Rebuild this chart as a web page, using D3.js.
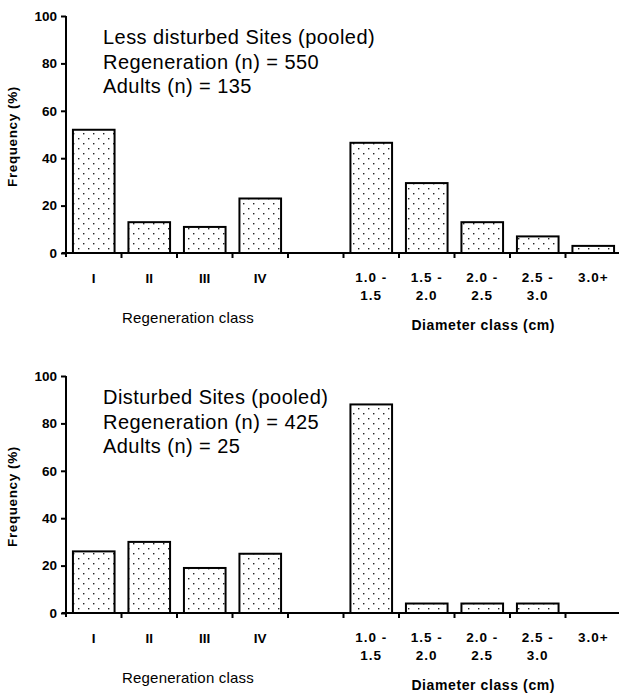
<!DOCTYPE html>
<html>
<head>
<meta charset="utf-8">
<script src="https://cdn.jsdelivr.net/npm/d3@7"></script>
<style>
  body { margin: 0; background: #fff; }
  svg { display: block; font-family: "Liberation Sans", Arial, sans-serif; }
</style>
</head>
<body>
<svg width="619" height="693"></svg>
<script>
const regenClasses = ["I", "II", "III", "IV"];
const diamClasses = ["1.0 -|1.5", "1.5 -|2.0", "2.0 -|2.5", "2.5 -|3.0", "3.0+"];
const yTicks = [0, 20, 40, 60, 80, 100];

const lessRegen = [52, 13, 11, 23];
const lessDiam = [46.5, 29.5, 13, 7, 3];
const disturbedRegen = [26, 30, 19, 25];
const disturbedDiam = [88, 4, 4, 4, 0];

const lessNotes = ["Less disturbed Sites (pooled)", "Regeneration (n) = 550", "Adults (n) = 135"];
const disturbedNotes = ["Disturbed Sites (pooled)", "Regeneration (n) = 425", "Adults (n) = 25"];

const svg = d3.select("svg");
const margin = { left: 66, top: 16 };
const innerH = 237;
const bandW = 55.5;

const defs = svg.append("defs");
const pat = defs.append("pattern")
    .attr("id", "dots")
    .attr("patternUnits", "userSpaceOnUse")
    .attr("width", 10)
    .attr("height", 10);
pat.append("rect").attr("width", 10).attr("height", 10).attr("fill", "#fff");
pat.append("rect").attr("x", 2).attr("y", 2).attr("width", 1.4).attr("height", 1.4).attr("fill", "#222");
pat.append("rect").attr("x", 7).attr("y", 7).attr("width", 1.4).attr("height", 1.4).attr("fill", "#222");

const domain = [...regenClasses, "gap", ...diamClasses];

function drawPanel(offsetY, regenVals, diamVals, notes) {
    const g = svg.append("g")
        .attr("transform", `translate(${margin.left}, ${margin.top + offsetY})`);

    const x = d3.scaleBand().domain(domain).range([0, bandW * domain.length]).padding(0);
    const y = d3.scaleLinear().domain([0, 100]).range([innerH, 0]);

    const rows = [
        ...regenClasses.map((c, i) => ({ cat: c, v: regenVals[i] })),
        ...diamClasses.map((c, i) => ({ cat: c, v: diamVals[i] }))
    ];

    const bw = x.bandwidth() * 0.75;
    g.append("g").selectAll("rect")
        .data(rows.filter(d => d.v > 0))
        .join("rect")
        .attr("x", d => x(d.cat) + (x.bandwidth() - bw) / 2)
        .attr("y", d => y(d.v))
        .attr("width", bw)
        .attr("height", d => y(0) - y(d.v))
        .attr("fill", "url(#dots)")
        .attr("stroke", "#000")
        .attr("stroke-width", 2);

    // y axis
    const ya = g.append("g")
        .call(d3.axisLeft(y).tickValues(yTicks).tickSize(5).tickPadding(4));
    ya.select(".domain").remove();
    ya.selectAll("line").attr("stroke", "#000").attr("stroke-width", 2);
    ya.selectAll("text")
        .attr("font-size", 13.5).attr("font-weight", "bold")
        .attr("font-family", "Liberation Sans, Arial, sans-serif").attr("fill", "#000");
    g.append("line")
        .attr("x1", 0).attr("x2", 0)
        .attr("y1", y(100)).attr("y2", y(0) + 4)
        .attr("stroke", "#000").attr("stroke-width", 2);

    // x axis line and ticks at band edges
    g.append("line")
        .attr("x1", -4).attr("x2", 619 - margin.left)
        .attr("y1", y(0)).attr("y2", y(0))
        .attr("stroke", "#000").attr("stroke-width", 2);
    g.append("g").selectAll("line")
        .data(domain.slice(1))
        .join("line")
        .attr("x1", d => x(d)).attr("x2", d => x(d))
        .attr("y1", y(0)).attr("y2", y(0) + 5)
        .attr("stroke", "#000").attr("stroke-width", 2);

    // category labels
    const labels = g.append("g")
        .attr("font-size", 13.5).attr("font-weight", "bold").attr("text-anchor", "middle");
    labels.selectAll("text.reg")
        .data(regenClasses)
        .join("text")
        .attr("class", "reg")
        .attr("x", d => x(d) + x.bandwidth() / 2)
        .attr("y", y(0) + 30)
        .text(d => d);
    const dl = labels.selectAll("text.dia")
        .data(diamClasses)
        .join("text")
        .attr("class", "dia")
        .attr("x", d => x(d) + x.bandwidth() / 2)
        .attr("y", y(0) + 29)
        .attr("letter-spacing", 1);
    dl.each(function(d) {
        const parts = d.split("|");
        const t = d3.select(this);
        parts.forEach((p, i) => {
            t.append("tspan")
                .attr("x", x(d) + x.bandwidth() / 2)
                .attr("dy", i === 0 ? 0 : 18)
                .text(p);
        });
    });

    // axis titles
    g.append("text")
        .attr("x", (x(regenClasses[0]) + x(regenClasses[3]) + x.bandwidth()) / 2 + 11)
        .attr("y", y(0) + 70)
        .attr("text-anchor", "middle")
        .attr("font-size", 15)
        .attr("letter-spacing", 0.2)
        .text("Regeneration class");
    g.append("text")
        .attr("x", (x(diamClasses[0]) + x(diamClasses[4]) + x.bandwidth()) / 2 + 1)
        .attr("y", y(0) + 77)
        .attr("text-anchor", "middle")
        .attr("font-size", 14)
        .attr("font-weight", "bold")
        .attr("letter-spacing", 0.6)
        .text("Diameter class (cm)");
    g.append("text")
        .attr("transform", `translate(${-49}, ${y(50) + 2}) rotate(-90)`)
        .attr("text-anchor", "middle")
        .attr("font-size", 13.5)
        .attr("font-weight", "bold")
        .attr("letter-spacing", 0.6)
        .text("Frequency (%)");

    // notes
    g.append("g").selectAll("text")
        .data(notes)
        .join("text")
        .attr("x", 37)
        .attr("y", (d, i) => 28 + i * 24.5)
        .attr("font-size", 20)
        .attr("letter-spacing", 0.45)
        .text(d => d);
}

drawPanel(0, lessRegen, lessDiam, lessNotes);
drawPanel(360, disturbedRegen, disturbedDiam, disturbedNotes);
</script>
</body>
</html>
